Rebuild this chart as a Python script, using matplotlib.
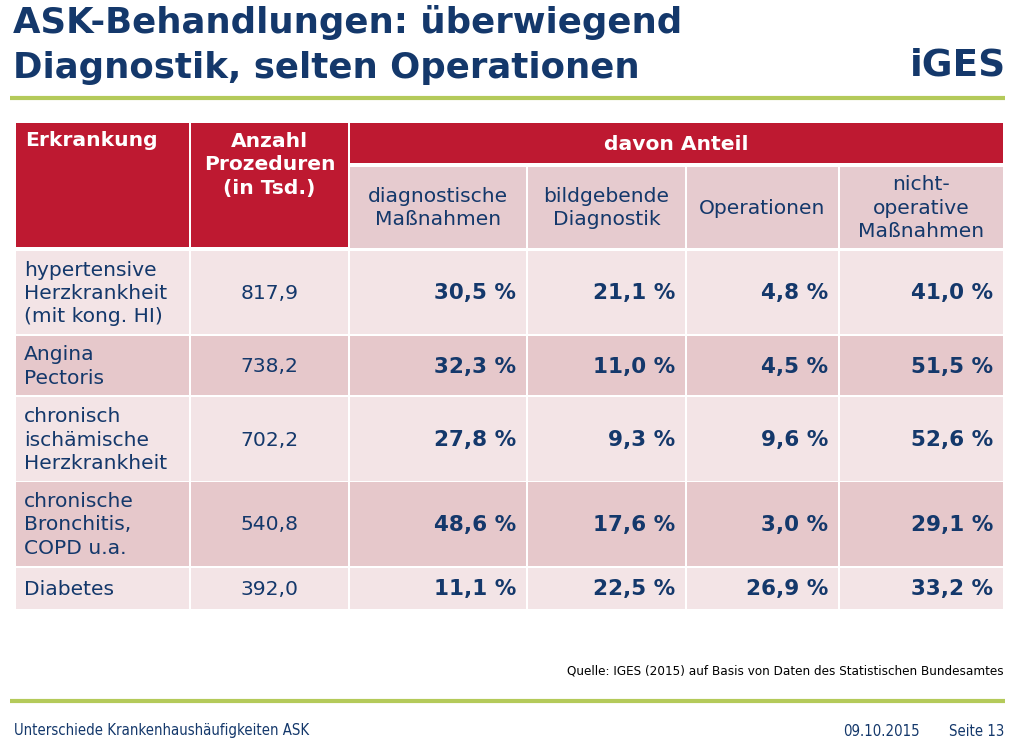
import matplotlib.pyplot as plt
from matplotlib.patches import Rectangle

# Tabelleninhalt
erkrankungen = ["hypertensive\nHerzkrankheit\n(mit kong. HI)", "Angina\nPectoris",
                "chronisch\nischämische\nHerzkrankheit", "chronische\nBronchitis,\nCOPD u.a.",
                "Diabetes"]
anzahl = [817.9, 738.2, 702.2, 540.8, 392.0]
diagnostisch = [30.5, 32.3, 27.8, 48.6, 11.1]
bildgebend = [21.1, 11.0, 9.3, 17.6, 22.5]
operationen = [4.8, 4.5, 9.6, 3.0, 26.9]
nicht_operativ = [41.0, 51.5, 52.6, 29.1, 33.2]
unterkopf = ["diagnostische\nMaßnahmen", "bildgebende\nDiagnostik", "Operationen",
             "nicht-\noperative\nMaßnahmen"]

def de(x):
    return ("%.1f" % x).replace(".", ",")

# Layout in Pixeln
spalten = [15, 190, 349, 527, 686, 839, 1004]
zeilen = [(251, 334), (336, 395), (397, 481), (482, 566), (568, 609)]
rot = "#be1931"
rosa_kopf = "#e6cbcf"
hell = "#f3e4e6"
dunkel = "#e6c8cb"
navy = "#14386b"
gruen = "#b4ca5a"
fs = 14.6

fig = plt.figure(figsize=(10.23, 7.55), dpi=100)
ax = fig.add_axes([0, 0, 1, 1])
ax.set_xlim(0, 1023)
ax.set_ylim(755, 0)
ax.axis("off")

def zelle(x0, x1, y0, y1, farbe):
    ax.add_patch(Rectangle((x0 + 1, y0), x1 - x0 - 2, y1 - y0, color=farbe, lw=0))

# Titel
ax.text(13, 23, "ASK-Behandlungen: überwiegend", fontsize=25.6, fontweight="bold",
        color=navy, va="center")
ax.text(13, 68, "Diagnostik, selten Operationen", fontsize=25.6, fontweight="bold",
        color=navy, va="center")
ax.text(1006, 65, "iGES", fontsize=27, fontweight="bold", color=navy, ha="right",
        va="center", family="DejaVu Sans")
ax.plot([10, 1005], [98, 98], color=gruen, lw=3, solid_capstyle="butt")

# Kopfzeilen
zelle(spalten[0], spalten[1], 123, 247, rot)
zelle(spalten[1], spalten[2], 123, 247, rot)
zelle(spalten[2], spalten[6], 123, 163, rot)
ax.text(25, 140, "Erkrankung", fontsize=fs, fontweight="bold", color="white", va="center")
ax.text((spalten[1] + spalten[2]) / 2, 165, "Anzahl\nProzeduren\n(in Tsd.)", fontsize=fs,
        fontweight="bold", color="white", ha="center", va="center", linespacing=1.3)
ax.text((spalten[2] + spalten[6]) / 2, 144, "davon Anteil", fontsize=fs, fontweight="bold",
        color="white", ha="center", va="center")
for i, txt in enumerate(unterkopf):
    x0, x1 = spalten[i + 2], spalten[i + 3]
    zelle(x0, x1, 167, 248, rosa_kopf)
    ax.text((x0 + x1) / 2, 208, txt, fontsize=fs, color=navy, ha="center", va="center",
            linespacing=1.3)

# Datenzeilen
for r, (y0, y1) in enumerate(zeilen):
    farbe = hell if r % 2 == 0 else dunkel
    for c in range(6):
        zelle(spalten[c], spalten[c + 1], y0, y1, farbe)
    ym = (y0 + y1) / 2 + 1
    ax.text(24, ym, erkrankungen[r], fontsize=fs, color=navy, va="center", linespacing=1.3)
    ax.text((spalten[1] + spalten[2]) / 2, ym, de(anzahl[r]), fontsize=fs, color=navy,
            ha="center", va="center")
    werte = [diagnostisch[r], bildgebend[r], operationen[r], nicht_operativ[r]]
    for k, w in enumerate(werte):
        ax.text(spalten[k + 3] - 11, ym, de(w) + " %", fontsize=15.5, fontweight="bold",
                color=navy, ha="right", va="center")

# Fußbereich
ax.text(1004, 671, "Quelle: IGES (2015) auf Basis von Daten des Statistischen Bundesamtes",
        fontsize=9.6, fontstretch="condensed", color="black", ha="right", va="center")
ax.plot([10, 1005], [701, 701], color=gruen, lw=3, solid_capstyle="butt")
ax.text(14, 731, "Unterschiede Krankenhaushäufigkeiten ASK", fontsize=10.7,
        fontstretch="condensed", color=navy, va="center")
ax.text(920, 731, "09.10.2015", fontsize=10.7, fontstretch="condensed", color=navy,
        ha="right", va="center")
ax.text(1004, 731, "Seite 13", fontsize=10.7, fontstretch="condensed", color=navy,
        ha="right", va="center")

fig.savefig("out.png", dpi=100)
